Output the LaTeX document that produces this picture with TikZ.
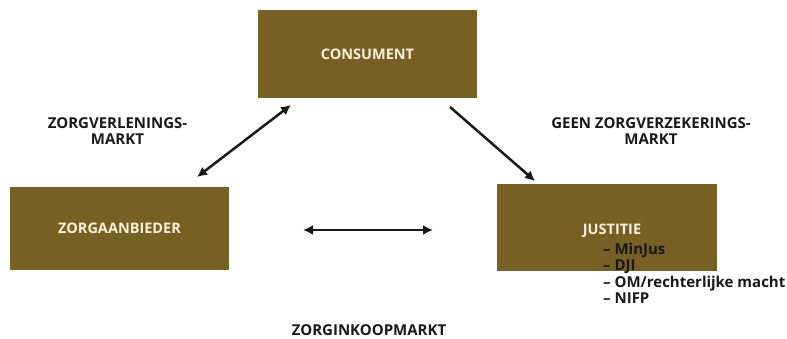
\documentclass[tikz,border=0pt]{standalone}
\usepackage{fontspec}
\setmainfont{Open Sans}
\usetikzlibrary{arrows.meta}
\definecolor{bruin}{RGB}{120,95,36}
\definecolor{creme}{RGB}{248,240,220}
\definecolor{tekst}{RGB}{25,25,25}
\begin{document}
\begin{tikzpicture}[x=1pt,y=-1pt]
        \tikzstyle{blok} = [shape=rectangle, fill=bruin, text=creme, font=\bfseries\fontsize{14.5}{16}\selectfont, inner sep=0pt]
        \tikzstyle{label} = [align=center, inner sep=0pt, text=tekst, font=\bfseries\fontsize{15}{16}\selectfont]
        \tikzstyle{pijl} = [line width=2.5pt, >={Latex[length=10pt,width=10pt]}, tekst]

        \useasboundingbox (0,0) rectangle (787,339);

        % blokken
        \node[blok, minimum width=219, minimum height=88] (consument) at (367.5, 54) {CONSUMENT};
        \node[blok, minimum width=219, minimum height=83] (zorgaanbieder) at (119.5, 228.5) {ZORGAANBIEDER};
        \node[blok, minimum width=220, minimum height=87] (justitie) at (607, 227.5) {};
            \node[text=creme, font=\bfseries\fontsize{14.5}{16}\selectfont] (justitietitel) at (612, 231) {JUSTITIE};
            \node[anchor=north west, align=left, inner sep=0pt, text=tekst, font=\bfseries\fontsize{15}{16.3}\selectfont] (lijst) at (603, 243)
                {– MinJus\\– DJI\\– OM/rechterlijke macht\\– NIFP};

        % markten
        \node[label] (zorgverlening) at (117.5, 131) {ZORGVERLENINGS-\\MARKT};
        \node[label] (verzekering) at (651, 131) {GEEN ZORGVERZEKERINGS-\\MARKT};
        \node[label] (inkoop) at (369, 330) {ZORGINKOOPMARKT};

        % pijlen
        \coordinate (p1) at (197, 177);
        \coordinate (p2) at (291, 105);
        \coordinate (p3) at (450, 107);
        \coordinate (p4) at (535, 181);
        \coordinate (p5) at (303, 230);
        \coordinate (p6) at (433, 230);

        \draw[pijl, <->] (p1) -- (p2);
        \draw[pijl, ->]  (p3) -- (p4);
        \draw[pijl, <->] (p5) -- (p6);

\end{tikzpicture}
\end{document}
